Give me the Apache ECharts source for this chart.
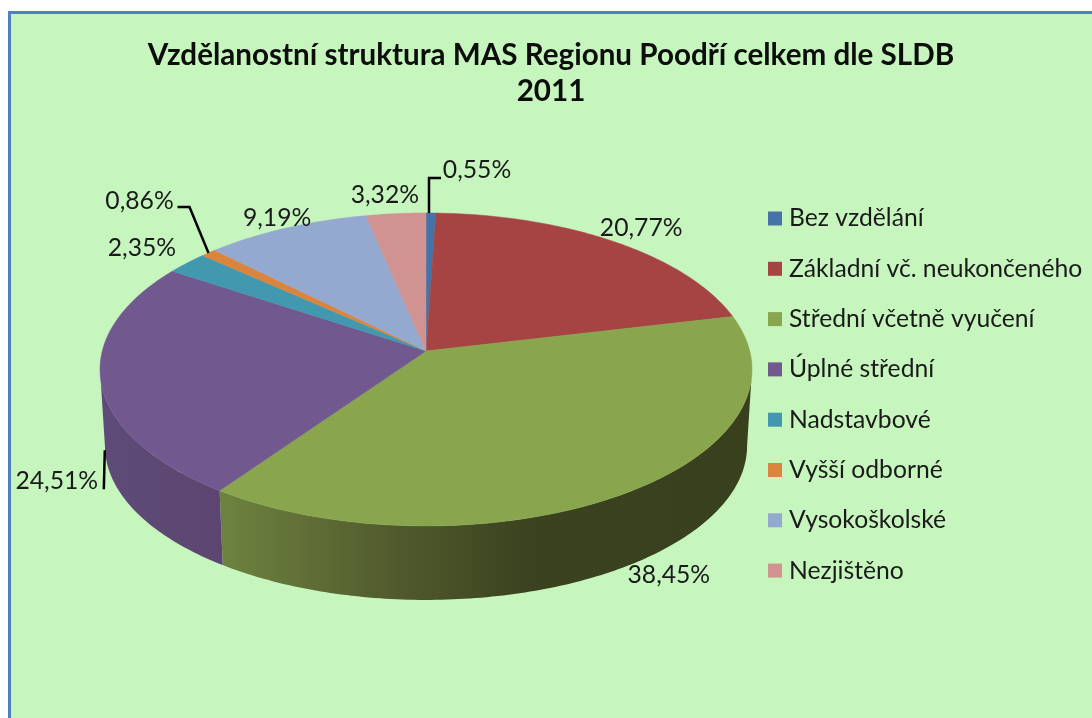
<!DOCTYPE html>
<html><head><meta charset="utf-8">
<style>html,body{margin:0;padding:0;background:#fff}#c{width:1092px;height:718px}</style>
<script src="https://cdn.jsdelivr.net/npm/echarts@6/dist/echarts.min.js"></script>
</head><body><div id="c"></div>
<script>
const titleText = 'Vzdělanostní struktura MAS Regionu Poodří celkem dle SLDB\n2011';
const categories = ['Bez vzdělání','Základní vč. neukončeného','Střední včetně vyučení','Úplné střední','Nadstavbové','Vyšší odborné','Vysokoškolské','Nezjištěno'];
const shares = [0.55,20.77,38.45,24.51,2.35,0.86,9.19,3.32];
const colors = ['#4572a7','#a64444','#89a54e','#71588f','#4198af','#db843d','#93a9cf','#d19392'];

// side-wall shading: [x, colour] stops across the chart width
const wallShades = [
  [[0,'#36406a'],[1,'#36406a']],
  [[0,'#642929'],[1,'#642929']],
  [[218,'#6e8340'],[400,'#50592c'],[530,'#3a421f'],[752,'#38401e']],
  [[100,'#5f4b78'],[222,'#5c4671']],
  [[0,'#27606d'],[1,'#27606d']],
  [[0,'#844f25'],[1,'#844f25']],
  [[0,'#58667d'],[1,'#58667d']],
  [[0,'#7e5958'],[1,'#7e5958']]
];
// label offset from each slice's rim midpoint
const labelOffsets = [[46,-43],[27,-14],[42,82],[-44,101],[-45,-15],[-69,-52],[-9,-10],[-11,-19]];
// leader lines, as offsets from the slice's rim midpoint
const leaders = {
  0:[[-2,0],[-2,-35],[10,-35]],
  3:[[4,70],[3,109]],
  5:[[0,0],[-19,-46],[-31,-46]]
};

const CX=426, CY=351, RX=323.7, RY=154.3, K=0.118, DEPTH=76.6, BASE=0.985;
// the wall is visible only between the two points where the rim's tangent is vertical
const FRONT_FROM = Math.acos(-K)/(2*Math.PI)*100, FRONT_TO = 100-FRONT_FROM;
function project(pct, bottom){
  const t = pct/100*2*Math.PI, s=Math.sin(t), c=Math.cos(t), w=1+K*c;
  const f = bottom?BASE:1;
  return [CX+f*RX*s/w, CY+(bottom?DEPTH:0)-f*RY*c/w];
}
function arc(from,to,bottom){
  const n=Math.max(2,Math.ceil((to-from)*4)), p=[];
  for(let j=0;j<=n;j++) p.push(project(from+(to-from)*j/n,bottom));
  return p;
}
const starts = shares.map((_,i)=>shares.slice(0,i).reduce((a,b)=>a+b,0));
const fmt = v=>v.toFixed(2).replace('.',',')+'%';

const wallSeries = {
  type:'custom', coordinateSystem:'none', silent:true, z:2,
  data: shares.map((v,i)=>[starts[i],v,i]),
  renderItem(params,api){
    const a=api.value(0), v=api.value(1), i=api.value(2);
    const from=Math.max(a,FRONT_FROM), to=Math.min(a+v,FRONT_TO);
    if(to<=from) return null;
    const pts=arc(from,to,false).concat(arc(from,to,true).reverse());
    const st=wallShades[i], x0=st[0][0], x1=st[st.length-1][0];
    const fill=new echarts.graphic.LinearGradient(x0,0,x1,0,st.map(q=>({offset:(q[0]-x0)/(x1-x0),color:q[1]})),true);
    return {type:'polygon',shape:{points:pts},style:{fill}};
  }
};
const faceSeries = categories.map((name,i)=>({
  type:'custom', name, coordinateSystem:'none', silent:true, z:3,
  itemStyle:{color:colors[i]},
  data:[[starts[i],shares[i]]],
  renderItem(params,api){
    const a=api.value(0), v=api.value(1);
    const pts=[[CX,CY]].concat(arc(a,a+v,false));
    const mid=project(a+v/2,false), off=labelOffsets[i];
    const kids=[{type:'polygon',shape:{points:pts},style:{fill:colors[i],stroke:colors[i],lineWidth:0.5}}];
    kids.push({type:'text',z2:5,style:{x:mid[0]+off[0],y:mid[1]+off[1],text:fmt(v),fill:'#1a1a1a',
      font:'24.7px Lato',align:'center',verticalAlign:'middle'}});
    if(leaders[i]) kids.push({type:'polyline',z2:5,shape:{points:leaders[i].map(o=>[mid[0]+o[0],mid[1]+o[1]])},
      style:{fill:'none',stroke:'#000',lineWidth:2.5}});
    return {type:'group',children:kids};
  }
}));

const chart=echarts.init(document.getElementById('c'),null,{renderer:'canvas'});
chart.setOption({
  animation:false,
  backgroundColor:'#ffffff',
  graphic:[{type:'rect',z:-1,silent:true,shape:{x:9.5,y:12.5,width:1100,height:720},
    style:{fill:'#c6f5be',stroke:'#4f81bd',lineWidth:3}}],
  title:{text:titleText,left:546,top:32,textAlign:'center',
    textStyle:{fontFamily:'Lato',fontWeight:'bold',fontSize:29.6,lineHeight:36,color:'#0d0d0d'}},
  legend:{orient:'vertical',left:768,top:206,padding:0,itemWidth:14,itemHeight:14,itemGap:25.3,icon:'rect',
    data:categories,selectedMode:false,
    textStyle:{fontFamily:'Lato',fontSize:24.7,color:'#1a1a1a',padding:[0,0,0,2]}},
  series:[wallSeries].concat(faceSeries)
});
</script></body></html>
